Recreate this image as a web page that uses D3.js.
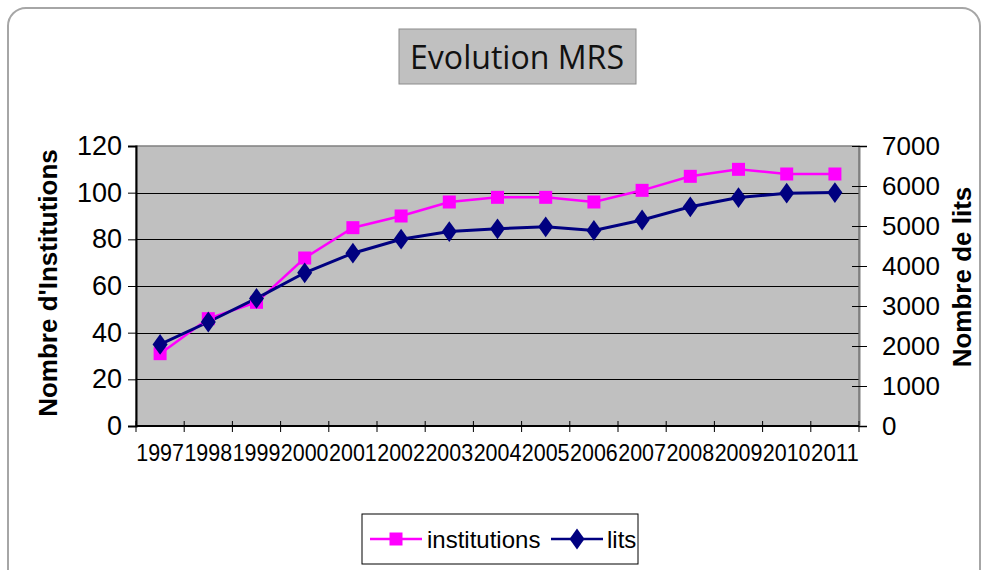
<!DOCTYPE html>
<html>
<head>
<meta charset="utf-8">
<script src="https://cdn.jsdelivr.net/npm/d3@7"></script>
<style>
  body { margin: 0; background: #fff; }
  text { font-family: "Liberation Sans", Arial, sans-serif; }
</style>
</head>
<body>
<div id="chart"></div>
<script>
// data
var years = ["1997", "1998", "1999", "2000", "2001", "2002", "2003", "2004",
  "2005", "2006", "2007", "2008", "2009", "2010", "2011"];
var institutions = [31, 46, 53, 72, 85, 90, 96, 98, 98, 96, 101, 107, 110, 108, 108];
var lits = [2040, 2600, 3190, 3830, 4320, 4670, 4860, 4930, 4980, 4890, 5150, 5480, 5710, 5820, 5835];
var leftTicks = [0, 20, 40, 60, 80, 100, 120];
var rightTicks = [0, 1000, 2000, 3000, 4000, 5000, 6000, 7000];

var svgWidth = 983;
var svgHeight = 570;
var plot = { left: 136, right: 859, top: 146, bottom: 426 };

var svg = d3.select("#chart")
  .append("svg")
  .attr("width", svgWidth)
  .attr("height", svgHeight);

// outer frame
svg.append("rect")
  .attr("x", 8).attr("y", 8)
  .attr("width", 972).attr("height", 590)
  .attr("rx", 18)
  .attr("fill", "#fff")
  .attr("stroke", "#a6a6a6")
  .attr("stroke-width", 2);

// title box
svg.append("rect")
  .attr("x", 399).attr("y", 29)
  .attr("width", 237).attr("height", 55)
  .attr("fill", "#c0c0c0")
  .attr("stroke", "#8c8c8c");
svg.append("text")
  .attr("x", 517).attr("y", 69)
  .attr("text-anchor", "middle")
  .attr("textLength", 214)
  .attr("lengthAdjust", "spacingAndGlyphs")
  .style("font-family", "'Liberation Sans Narrow', 'Open Sans', sans-serif")
  .style("font-size", "32px")
  .attr("fill", "#111")
  .text("Evolution MRS");

// scales
var x = d3.scaleBand().domain(years).range([plot.left, plot.right]);
var yLeft = d3.scaleLinear().domain([0, 120]).range([plot.bottom, plot.top]);
var yRight = d3.scaleLinear().domain([0, 7000]).range([plot.bottom, plot.top]);

// plot area
svg.append("rect")
  .attr("x", plot.left).attr("y", plot.top)
  .attr("width", plot.right - plot.left)
  .attr("height", plot.bottom - plot.top)
  .attr("fill", "#c0c0c0")
  .attr("stroke", "#808080")
  .attr("stroke-width", 1.5);

// gridlines
svg.append("g")
  .selectAll("line")
  .data(leftTicks.filter(d => d > 0 && d < 120))
  .enter()
  .append("line")
  .attr("x1", plot.left).attr("x2", plot.right)
  .attr("y1", d => Math.round(yLeft(d)) + 0.5)
  .attr("y2", d => Math.round(yLeft(d)) + 0.5)
  .attr("stroke", "#000")
  .attr("stroke-width", 1);

// left axis
var leftAxis = d3.axisLeft(yLeft).tickValues(leftTicks).tickSize(8).tickPadding(6);
var gl = svg.append("g")
  .attr("transform", `translate(${plot.left}, 0)`)
  .call(leftAxis);
gl.select(".domain").attr("stroke", "#000").attr("stroke-width", 2);
gl.selectAll("text").style("font-size", "27px").attr("fill", "#000");

// right axis
var rightAxis = d3.axisRight(yRight).tickValues(rightTicks).tickFormat(d3.format("d"))
  .tickSize(8).tickPadding(15);
var gr = svg.append("g")
  .attr("transform", `translate(${plot.right}, 0)`)
  .call(rightAxis);
gr.select(".domain").attr("stroke", "#808080").attr("stroke-width", 2);
gr.selectAll(".tick line").attr("x1", -7).attr("stroke", "#000");
gr.selectAll("text").style("font-size", "26px").attr("fill", "#000");

// bottom axis: ticks at category boundaries
svg.append("g")
  .selectAll("line")
  .data(years.concat(["end"]))
  .enter()
  .append("line")
  .attr("x1", (d, i) => plot.left + i * x.step())
  .attr("x2", (d, i) => plot.left + i * x.step())
  .attr("y1", plot.bottom - 5)
  .attr("y2", plot.bottom + 6)
  .attr("stroke", "#000");
svg.append("line")
  .attr("x1", plot.left).attr("x2", plot.right)
  .attr("y1", plot.bottom).attr("y2", plot.bottom)
  .attr("stroke", "#000").attr("stroke-width", 2);
svg.append("g")
  .selectAll("text")
  .data(years)
  .enter()
  .append("text")
  .attr("x", d => x(d) + x.bandwidth() / 2)
  .attr("y", 461)
  .attr("text-anchor", "middle")
  .attr("textLength", x.step() - 0.5)
  .attr("lengthAdjust", "spacingAndGlyphs")
  .style("font-size", "24px")
  .text(d => d);

// axis titles
svg.append("text")
  .attr("transform", "translate(57, 283) rotate(-90)")
  .attr("text-anchor", "middle")
  .style("font-size", "26px")
  .style("font-weight", "bold")
  .text("Nombre d'Institutions");
svg.append("text")
  .attr("transform", "translate(971, 277) rotate(-90)")
  .attr("text-anchor", "middle")
  .style("font-size", "26px")
  .style("font-weight", "bold")
  .text("Nombre de lits");

var cx = d => x(d) + x.bandwidth() / 2;

// institutions series
var instLine = d3.line()
  .x((d, i) => cx(years[i]))
  .y(d => yLeft(d));
svg.append("path")
  .datum(institutions)
  .attr("d", instLine)
  .attr("fill", "none")
  .attr("stroke", "#ff00ff")
  .attr("stroke-width", 2.5);

// lits series
var litsLine = d3.line()
  .x((d, i) => cx(years[i]))
  .y(d => yRight(d));
svg.append("path")
  .datum(lits)
  .attr("d", litsLine)
  .attr("fill", "none")
  .attr("stroke", "#000080")
  .attr("stroke-width", 3);

var square = d3.symbol().type(d3.symbolSquare).size(169);
var diamond = d3.symbol().type(d3.symbolDiamond).size(125);

svg.append("g")
  .selectAll("path")
  .data(institutions)
  .enter()
  .append("path")
  .attr("d", square)
  .attr("transform", (d, i) => `translate(${cx(years[i])}, ${yLeft(d)})`)
  .attr("fill", "#ff00ff");

svg.append("g")
  .selectAll("path")
  .data(lits)
  .enter()
  .append("path")
  .attr("d", diamond)
  .attr("transform", (d, i) => `translate(${cx(years[i])}, ${yRight(d)}) scale(1.25, 1)`)
  .attr("fill", "#000080");

// legend
var legend = svg.append("g");
legend.append("rect")
  .attr("x", 362).attr("y", 514)
  .attr("width", 276).attr("height", 50)
  .attr("fill", "#fff")
  .attr("stroke", "#000");
legend.append("line")
  .attr("x1", 370).attr("x2", 422).attr("y1", 539).attr("y2", 539)
  .attr("stroke", "#ff00ff").attr("stroke-width", 2.5);
legend.append("path")
  .attr("d", square)
  .attr("transform", "translate(396, 539)")
  .attr("fill", "#ff00ff");
legend.append("text")
  .attr("x", 427).attr("y", 548)
  .style("font-size", "24px")
  .text("institutions");
legend.append("line")
  .attr("x1", 551).attr("x2", 603).attr("y1", 539).attr("y2", 539)
  .attr("stroke", "#000080").attr("stroke-width", 2.5);
legend.append("path")
  .attr("d", diamond)
  .attr("transform", "translate(577, 539) scale(1.25, 1)")
  .attr("fill", "#000080");
legend.append("text")
  .attr("x", 607).attr("y", 548)
  .style("font-size", "24px")
  .text("lits");
</script>
</body>
</html>
